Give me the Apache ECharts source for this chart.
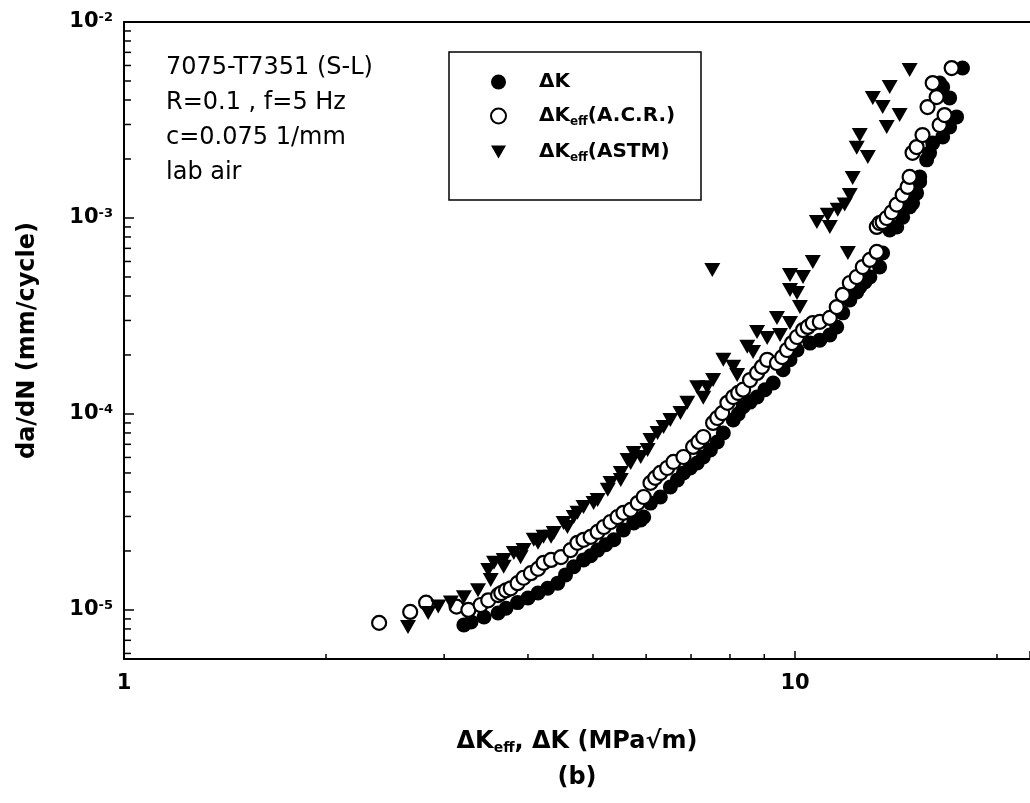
<!DOCTYPE html>
<html>
<head>
<meta charset="utf-8">
<script src="https://cdn.jsdelivr.net/npm/echarts@6/dist/echarts.min.js"></script>
<style>
html, body { margin: 0; padding: 0; background: #fff; }
#main { width: 1030px; height: 803px; }
</style>
</head>
<body>
<div id="main"></div>
<script>
// axis range
var X_MIN = 1, X_MAX = 22.4;
var Y_MIN = 5.62e-6, Y_MAX = 0.01;

// minor ticks (log decades)
var xMinorTicks = [2, 3, 4, 5, 6, 7, 8, 9, 20];
var yMinorTicks = [6e-6, 7e-6, 8e-6, 9e-6,
    2e-5, 3e-5, 4e-5, 5e-5, 6e-5, 7e-5, 8e-5, 9e-5,
    2e-4, 3e-4, 4e-4, 5e-4, 6e-4, 7e-4, 8e-4, 9e-4,
    2e-3, 3e-3, 4e-3, 5e-3, 6e-3, 7e-3, 8e-3, 9e-3];

var seriesNames = ['ΔK', 'ΔKeff(A.C.R.)', 'ΔKeff(ASTM)'];
var notes = ['7075-T7351 (S-L)', 'R=0.1 , f=5 Hz', 'c=0.075 1/mm', 'lab air'];

// [ΔK, da/dN]
var dkData = [
    [3.21, 8.38e-6], [3.29, 8.69e-6], [3.44, 9.21e-6], [3.61, 9.65e-6], [3.71, 1.02e-5],
    [3.86, 1.09e-5], [4.00, 1.15e-5], [4.14, 1.22e-5], [4.28, 1.29e-5], [4.43, 1.37e-5],
    [4.55, 1.51e-5], [4.68, 1.66e-5], [4.84, 1.80e-5], [4.96, 1.89e-5], [5.08, 2.02e-5],
    [5.22, 2.15e-5], [5.37, 2.28e-5], [5.55, 2.56e-5], [5.75, 2.78e-5], [5.89, 2.88e-5],
    [5.95, 2.98e-5], [6.09, 3.51e-5], [6.30, 3.77e-5], [6.52, 4.24e-5], [6.68, 4.61e-5],
    [6.82, 5.00e-5], [6.98, 5.30e-5], [7.15, 5.62e-5], [7.30, 6.03e-5], [7.48, 6.55e-5],
    [7.66, 7.20e-5], [7.82, 8.00e-5], [8.09, 9.32e-5], [8.23, 1.00e-4], [8.37, 1.09e-4],
    [8.57, 1.15e-4], [8.78, 1.22e-4], [9.02, 1.33e-4], [9.28, 1.44e-4], [9.60, 1.68e-4],
    [9.83, 1.89e-4], [10.07, 2.12e-4], [10.53, 2.30e-4], [10.89, 2.38e-4], [11.27, 2.53e-4],
    [11.54, 2.78e-4], [11.78, 3.28e-4], [12.07, 3.82e-4], [12.36, 4.19e-4], [12.49, 4.45e-4],
    [12.71, 4.72e-4], [12.93, 5.00e-4], [13.37, 5.62e-4], [13.51, 6.63e-4], [13.84, 8.69e-4],
    [14.18, 9.00e-4], [14.47, 1.01e-3], [14.82, 1.14e-3], [14.97, 1.19e-3], [15.18, 1.34e-3],
    [15.34, 1.53e-3], [15.34, 1.62e-3], [15.71, 1.98e-3], [15.87, 2.15e-3], [16.04, 2.41e-3],
    [16.60, 2.59e-3], [17.00, 2.91e-3], [17.41, 3.28e-3], [17.00, 4.10e-3], [16.60, 4.66e-3],
    [16.43, 4.88e-3], [17.77, 5.82e-3]
];

var acrData = [
    [2.40, 8.59e-6], [2.67, 9.77e-6], [2.82, 1.09e-5], [3.13, 1.04e-5], [3.26, 1.00e-5],
    [3.40, 1.06e-5], [3.49, 1.12e-5], [3.61, 1.19e-5], [3.65, 1.22e-5], [3.71, 1.26e-5],
    [3.77, 1.29e-5], [3.86, 1.37e-5], [3.94, 1.46e-5], [4.04, 1.54e-5], [4.14, 1.62e-5],
    [4.22, 1.74e-5], [4.33, 1.80e-5], [4.48, 1.86e-5], [4.63, 2.02e-5], [4.74, 2.20e-5],
    [4.84, 2.28e-5], [4.96, 2.36e-5], [5.08, 2.50e-5], [5.19, 2.65e-5], [5.31, 2.81e-5],
    [5.44, 2.98e-5], [5.55, 3.13e-5], [5.69, 3.24e-5], [5.83, 3.51e-5], [5.95, 3.77e-5],
    [6.09, 4.45e-5], [6.19, 4.72e-5], [6.30, 5.00e-5], [6.45, 5.30e-5], [6.59, 5.69e-5],
    [6.82, 6.03e-5], [7.05, 6.79e-5], [7.18, 7.20e-5], [7.30, 7.63e-5], [7.55, 9.00e-5],
    [7.66, 9.54e-5], [7.79, 1.01e-4], [7.93, 1.14e-4], [8.09, 1.22e-4], [8.23, 1.28e-4],
    [8.37, 1.33e-4], [8.57, 1.49e-4], [8.78, 1.62e-4], [8.93, 1.74e-4], [9.09, 1.89e-4],
    [9.40, 1.82e-4], [9.57, 1.95e-4], [9.73, 2.12e-4], [9.90, 2.30e-4], [10.07, 2.47e-4],
    [10.28, 2.68e-4], [10.45, 2.78e-4], [10.63, 2.91e-4], [10.89, 2.95e-4], [11.27, 3.09e-4],
    [11.54, 3.51e-4], [11.78, 4.05e-4], [12.07, 4.66e-4], [12.36, 5.00e-4], [12.62, 5.62e-4],
    [12.93, 6.11e-4], [13.24, 6.71e-4], [13.24, 9.00e-4], [13.37, 9.43e-4], [13.51, 9.54e-4],
    [13.70, 1.00e-3], [13.94, 1.07e-3], [14.18, 1.17e-3], [14.47, 1.31e-3], [14.72, 1.44e-3],
    [14.82, 1.62e-3], [14.97, 2.15e-3], [15.18, 2.30e-3], [15.49, 2.65e-3], [16.43, 2.98e-3],
    [16.71, 3.35e-3], [15.76, 3.68e-3], [16.26, 4.14e-3], [16.04, 4.88e-3], [17.12, 5.82e-3]
];

var astmData = [
    [2.65, 8.19e-6], [2.84, 9.65e-6], [2.94, 1.04e-5], [3.07, 1.09e-5], [3.21, 1.16e-5],
    [3.37, 1.26e-5], [3.52, 1.42e-5], [3.49, 1.60e-5], [3.56, 1.74e-5], [3.68, 1.66e-5],
    [3.68, 1.80e-5], [3.81, 1.95e-5], [3.90, 1.86e-5], [3.94, 2.02e-5], [4.08, 2.28e-5],
    [4.14, 2.20e-5], [4.22, 2.36e-5], [4.33, 2.36e-5], [4.37, 2.47e-5], [4.52, 2.78e-5],
    [4.58, 2.65e-5], [4.68, 2.98e-5], [4.74, 3.13e-5], [4.84, 3.35e-5], [5.01, 3.51e-5],
    [5.08, 3.64e-5], [5.26, 4.10e-5], [5.31, 4.45e-5], [5.50, 4.61e-5], [5.50, 5.00e-5],
    [5.63, 5.82e-5], [5.69, 5.62e-5], [5.75, 6.32e-5], [5.89, 6.03e-5], [6.03, 6.55e-5],
    [6.09, 7.37e-5], [6.24, 8.00e-5], [6.37, 8.59e-5], [6.52, 9.32e-5], [6.75, 1.01e-4],
    [6.91, 1.14e-4], [7.15, 1.37e-4], [7.30, 1.21e-4], [7.40, 1.37e-4], [7.55, 1.49e-4],
    [7.82, 1.89e-4], [8.09, 1.74e-4], [8.20, 1.58e-4], [8.49, 2.20e-4], [8.66, 2.07e-4],
    [8.78, 2.62e-4], [9.09, 2.44e-4], [9.50, 2.53e-4], [9.40, 3.09e-4], [9.83, 2.91e-4],
    [10.17, 3.51e-4], [10.07, 4.14e-4], [9.83, 4.29e-4], [10.28, 5.00e-4], [9.83, 5.12e-4],
    [10.63, 5.96e-4], [7.53, 5.43e-4], [11.99, 6.63e-4], [11.27, 9.00e-4], [10.78, 9.54e-4],
    [11.19, 1.04e-3], [11.58, 1.10e-3], [11.86, 1.17e-3], [12.07, 1.31e-3], [12.19, 1.60e-3],
    [12.36, 2.28e-3], [12.84, 2.05e-3], [12.49, 2.65e-3], [13.70, 2.91e-3], [14.32, 3.35e-3],
    [13.51, 3.68e-3], [13.06, 4.10e-3], [13.84, 4.66e-3], [14.82, 5.69e-3]
];

var FONT = 'DejaVu Sans';
var DOWN_TRIANGLE = 'path://M0,0L16,0L8,14Z';

function isDecade(v) {
    var e = Math.log10(v);
    return Math.abs(e - Math.round(e)) < 1e-6;
}

// short inward ticks drawn through the axes' own scales
function minorTickX(params, api) {
    var p = api.coord([api.value(0), api.value(1)]);
    return { type: 'line', shape: { x1: p[0], y1: p[1], x2: p[0], y2: p[1] - 5 },
        style: { stroke: '#000', lineWidth: 1.5 } };
}
function minorTickY(params, api) {
    var p = api.coord([api.value(0), api.value(1)]);
    return { type: 'line', shape: { x1: p[0], y1: p[1], x2: p[0] + 7, y2: p[1] },
        style: { stroke: '#000', lineWidth: 1.5 } };
}

var legendLabels = {};
legendLabels[seriesNames[0]] = '{f|ΔK}';
legendLabels[seriesNames[1]] = '{f|ΔK}{s|eff}{m|(A.C.R.)}';
legendLabels[seriesNames[2]] = '{f|ΔK}{s|eff}{m|(ASTM)}';

var myChart = echarts.init(document.getElementById('main'), null, { renderer: 'canvas' });

var option = {
    backgroundColor: '#fff',
    animation: false,
    title: {
        text: notes.join('\n'),
        left: 166,
        top: 50,
        padding: 0,
        textStyle: { fontFamily: FONT, fontSize: 24, fontWeight: 'normal', lineHeight: 35, color: '#000' }
    },
    legend: {
        orient: 'vertical',
        left: 490,
        top: 72,
        padding: 0,
        itemWidth: 15,
        itemHeight: 15,
        itemGap: 14,
        symbolRotate: 0,
        selectedMode: false,
        data: [
            { name: seriesNames[0] },
            { name: seriesNames[1] },
            { name: seriesNames[2], icon: DOWN_TRIANGLE }
        ],
        formatter: function (name) { return legendLabels[name]; },
        textStyle: {
            color: '#000',
            rich: {
                f: { fontFamily: FONT, fontSize: 20, fontWeight: 'bold', lineHeight: 24, padding: [0, 0, 0, 28], color: '#000' },
                m: { fontFamily: FONT, fontSize: 20, fontWeight: 'bold', lineHeight: 24, color: '#000' },
                s: { fontFamily: FONT, fontSize: 12, fontWeight: 'bold', lineHeight: 12, verticalAlign: 'bottom', color: '#000' }
            }
        }
    },
    graphic: [{
        type: 'rect',
        shape: { x: 449, y: 52, width: 252, height: 148 },
        style: { fill: 'none', stroke: '#000', lineWidth: 1.5 }
    }],
    grid: { left: 124, right: 0, top: 22, bottom: 144, outerBoundsMode: 'none' },
    xAxis: [{
        type: 'log',
        min: X_MIN,
        max: X_MAX,
        position: 'bottom',
        axisLine: { show: true, onZero: false, lineStyle: { color: '#000', width: 2 } },
        axisTick: { show: true, inside: true, length: 8, lineStyle: { color: '#000', width: 1.5 } },
        splitLine: { show: false },
        axisLabel: {
            margin: 14,
            color: '#000',
            fontFamily: FONT,
            fontSize: 21,
            fontWeight: 'bold',
            formatter: function (v) { return isDecade(v) ? String(Math.round(v)) : ''; }
        },
        name: '{n|ΔK}{s|eff}{n|, ΔK (MPa√m)}\n{b|(b)}',
        nameLocation: 'middle',
        nameGap: 70,
        nameTextStyle: {
            color: '#000',
            rich: {
                n: { fontFamily: FONT, fontSize: 24, fontWeight: 'bold', lineHeight: 26, color: '#000' },
                s: { fontFamily: FONT, fontSize: 14, fontWeight: 'bold', lineHeight: 14, verticalAlign: 'bottom', color: '#000' },
                b: { fontFamily: FONT, fontSize: 24, fontWeight: 'bold', lineHeight: 46, color: '#000' }
            }
        }
    }, {
        type: 'log',
        min: X_MIN,
        max: X_MAX,
        position: 'top',
        axisLine: { show: true, onZero: false, lineStyle: { color: '#000', width: 2 } },
        axisTick: { show: false },
        axisLabel: { show: false },
        splitLine: { show: false }
    }],
    yAxis: {
        type: 'log',
        min: Y_MIN,
        max: Y_MAX,
        axisLine: { show: true, onZero: false, lineStyle: { color: '#000', width: 2 } },
        axisTick: { show: true, inside: true, length: 10, lineStyle: { color: '#000', width: 1.5 } },
        splitLine: { show: false },
        axisLabel: {
            margin: 11,
            formatter: function (v) {
                if (!isDecade(v)) return '';
                return '{b|10}{s|' + Math.round(Math.log10(v)) + '}';
            },
            rich: {
                b: { fontFamily: FONT, fontSize: 21, fontWeight: 'bold', lineHeight: 22, color: '#000' },
                s: { fontFamily: FONT, fontSize: 13, fontWeight: 'bold', lineHeight: 13, verticalAlign: 'top', color: '#000' }
            }
        },
        name: 'da/dN (mm/cycle)',
        nameLocation: 'middle',
        nameRotate: 90,
        nameGap: 84,
        nameTextStyle: { fontFamily: FONT, fontSize: 24, fontWeight: 'bold', color: '#000' }
    },
    series: [{
        name: seriesNames[0],
        type: 'scatter',
        symbol: 'circle',
        symbolSize: 15,
        itemStyle: { color: '#000', opacity: 1 },
        data: dkData
    }, {
        name: seriesNames[1],
        type: 'scatter',
        symbol: 'circle',
        symbolSize: 14,
        itemStyle: { color: '#fff', borderColor: '#000', borderWidth: 2.2, opacity: 1 },
        data: acrData
    }, {
        name: seriesNames[2],
        type: 'scatter',
        symbol: DOWN_TRIANGLE,
        symbolSize: [16, 14],
        itemStyle: { color: '#000', opacity: 1 },
        data: astmData
    }, {
        type: 'custom',
        silent: true,
        renderItem: minorTickX,
        data: xMinorTicks.map(function (v) { return [v, Y_MIN]; })
    }, {
        type: 'custom',
        silent: true,
        renderItem: minorTickY,
        data: yMinorTicks.map(function (v) { return [X_MIN, v]; })
    }]
};

myChart.setOption(option);
</script>
</body>
</html>
